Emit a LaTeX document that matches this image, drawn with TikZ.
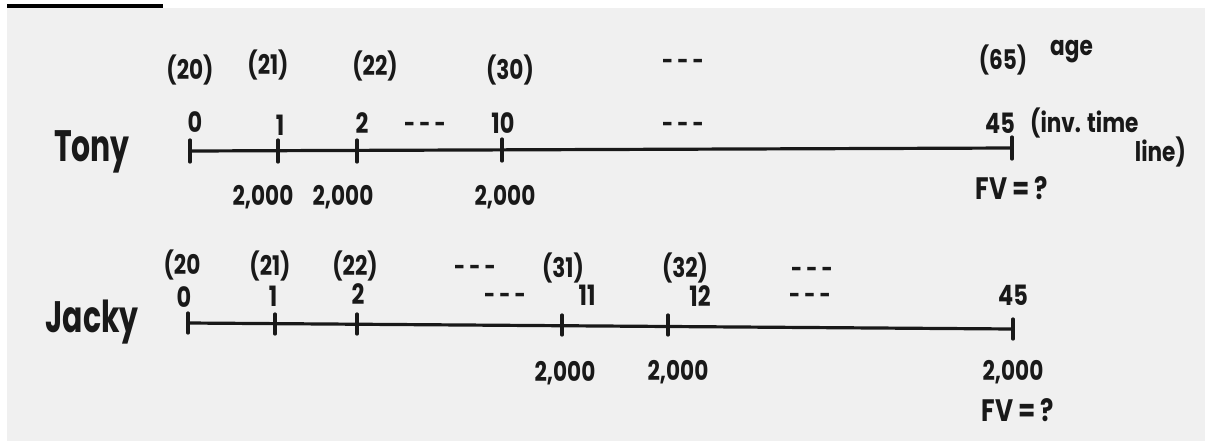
\documentclass[tikz,border=0pt]{standalone}
\usepackage{fontspec}
\setmainfont{Poppins}
\newfontfamily\hand[FakeStretch=0.8]{Poppins}
\newfontfamily\handname[FakeStretch=0.68]{Poppins}
\begin{document}
\begin{tikzpicture}[x=1pt,y=-1pt,
  ink/.style={draw=black!90, line width=3.2pt, line cap=round},
  tk/.style={draw=black!90, line width=3.2pt, line cap=round},
  lbl/.style={inner sep=0pt, text=black!90, font=\hand\bfseries\fontsize{28}{30}\selectfont},
  age/.style={inner sep=0pt, text=black!90, font=\hand\bfseries\fontsize{27}{30}\selectfont},
  amt/.style={inner sep=0pt, text=black!90, font=\hand\bfseries\fontsize{27}{30}\selectfont},
  fv/.style={inner sep=0pt, text=black!90, font=\hand\bfseries\fontsize{31}{33}\selectfont},
  nm/.style={inner sep=0pt, text=black!90, font=\handname\bfseries\fontsize{44}{46}\selectfont},
  dots/.style={inner sep=0pt, text=black!90, font=\hand\bfseries\fontsize{24}{26}\selectfont}]
\useasboundingbox (0,0) rectangle (1205,445);
\fill[white] (0,0) rectangle (1205,445);
\fill[black!6] (7,8) rectangle (1205,441);
\fill[black] (7,4) rectangle (163,8);

% ---- Tony ----
\node[nm] (tony) at (92,152) {Tony};
\coordinate (t0) at (190,151);
\coordinate (t1) at (278,151);
\coordinate (t2) at (357,151);
\coordinate (t10) at (502,150);
\coordinate (t45) at (1012,148);
\draw[ink] (t0) -- (t45);
\foreach \c in {t0,t1,t2,t10,t45}
  \draw[tk] ([yshift=-11pt]\c) -- ([yshift=11pt]\c);

\node[lbl] (tl0) at (195,122) {0};
\node[lbl] (tl1) at (280,125) {1};
\node[lbl] (tl2) at (362,123) {2};
\node[dots] (tld1) at (425,127) {- - -};
\node[lbl] (tl10) at (503,123) {10};
\node[dots] (tld2) at (683,127) {- - -};
\node[lbl] (tl45) at (1000,123) {45};
\node[age, anchor=west] (inv) at (1030,123) {(inv. time};
\node[age, anchor=east] (line) at (1186,152) {line)};

\node[age] (ta20) at (190,70) {(20)};
\node[age] (ta21) at (268,65) {(21)};
\node[age] (ta22) at (375,66) {(22)};
\node[age] (ta30) at (510,70) {(30)};
\node[dots] (tad) at (683,64) {- - -};
\node[age] (ta65) at (1003,60) {(65)};
\node[age, anchor=west] (agew) at (1050,52) {age};

\node[amt] (ta1) at (263,197) {2,000};
\node[amt] (ta2) at (343,197) {2,000};
\node[amt] (ta3) at (505,197) {2,000};
\node[fv] (tfv) at (1012,188) {FV\,=\,?};

% ---- Jacky ----
\node[nm] (jacky) at (92,322) {Jacky};
\coordinate (j0) at (188,323);
\coordinate (j1) at (275,324);
\coordinate (j2) at (357,324);
\coordinate (j11) at (562,325);
\coordinate (j12) at (668,325);
\coordinate (j45) at (1013,329);
\draw[ink] (j0) -- (j45);
\foreach \c in {j0,j1,j2,j11,j12,j45}
  \draw[tk] ([yshift=-10pt]\c) -- ([yshift=10pt]\c);

\node[lbl] (jl0) at (184,297) {0};
\node[lbl] (jl1) at (273,296) {1};
\node[lbl] (jl2) at (358,294) {2};
\node[dots] (jld1) at (505,298) {- - -};
\node[lbl] (jl11) at (587,295) {11};
\node[lbl] (jl12) at (700,296) {12};
\node[dots] (jld2) at (810,298) {- - -};
\node[lbl] (jl45) at (1013,295) {45};

\node[age] (ja20) at (182,265) {(20};
\node[age] (ja21) at (270,266) {(21)};
\node[age] (ja22) at (355,266) {(22)};
\node[dots] (jad1) at (475,270) {- - -};
\node[age] (ja31) at (563,268) {(31)};
\node[age] (ja32) at (685,268) {(32)};
\node[dots] (jad2) at (812,272) {- - -};

\node[amt] (ja1) at (565,373) {2,000};
\node[amt] (ja2) at (678,372) {2,000};
\node[amt] (ja3) at (1013,372) {2,000};
\node[fv] (jfv) at (1018,410) {FV\,=\,?};
\end{tikzpicture}
\end{document}
